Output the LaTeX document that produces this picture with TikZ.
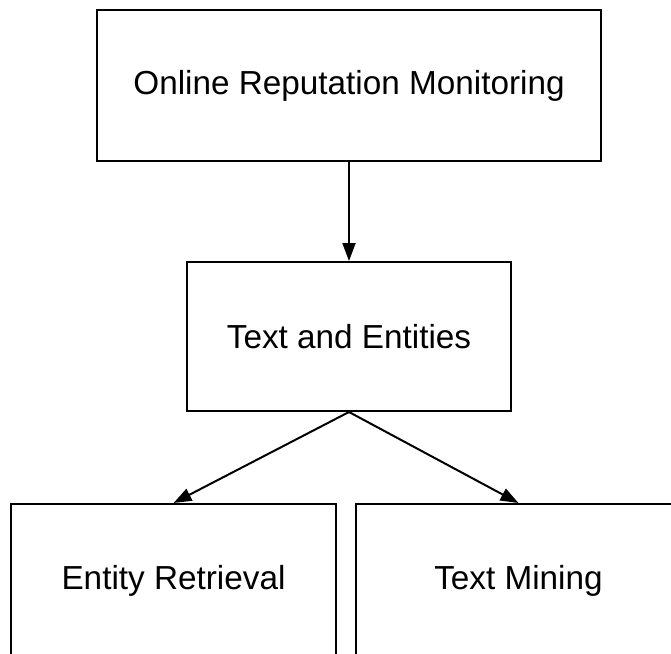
\documentclass[tikz,border=0pt]{standalone}
\usepackage{fontspec}
\setmainfont{Liberation Sans}
\usetikzlibrary{arrows.meta}
\tikzset{
    box/.style={draw,line width=2pt,inner sep=0pt,font=\fontsize{33.3}{40}\selectfont},
    link/.style={line width=2pt,-{Triangle[length=18pt,width=13pt]}}
}
\begin{document}
\begin{tikzpicture}[x=1pt,y=-1pt]
    \clip (0,0) rectangle (671,653);
    \fill[white] (0,0) rectangle (671,653);
    \node[box,minimum width=504pt,minimum height=151pt] (monitor) at (349,85.5) {Online Reputation Monitoring};
    \node[box,minimum width=324pt,minimum height=149pt] (entities) at (349,336.5) {Text and Entities};
    \node[box,minimum width=325pt,minimum height=154pt] (retrieval) at (173.5,581) {Entity Retrieval};
    \node[box,minimum width=325pt,minimum height=154pt] (mining) at (518.5,581) {Text Mining};
    \draw[link] (monitor) -- (entities);
    \draw[link] (entities.south) -- (retrieval.north);
    \draw[link] (entities.south) -- (mining.north);
\end{tikzpicture}
\end{document}
